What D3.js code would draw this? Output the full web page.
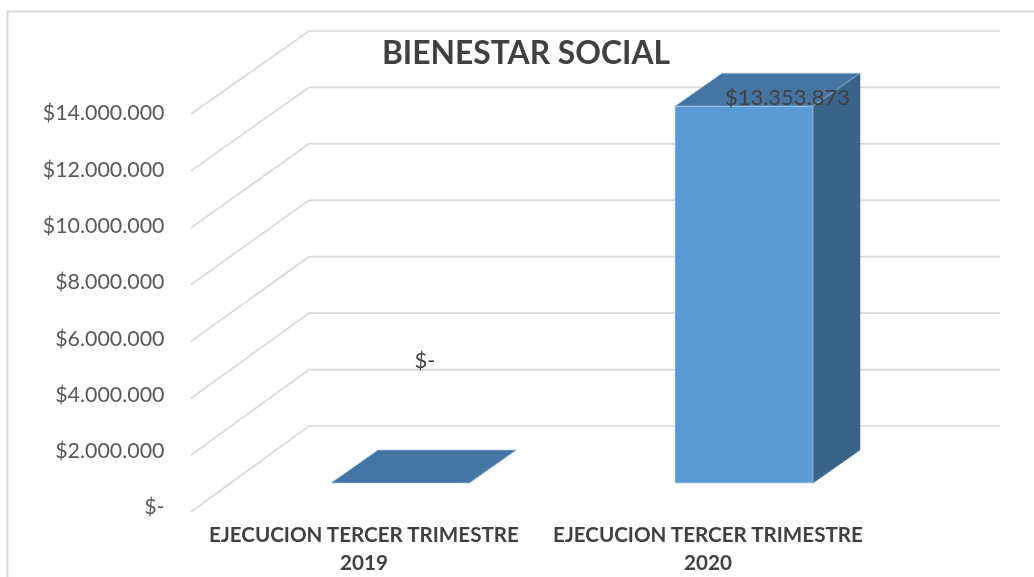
<!DOCTYPE html>
<html><head><meta charset="utf-8">
<script src="https://cdnjs.cloudflare.com/ajax/libs/d3/7.8.5/d3.min.js"></script>
<style>html,body{margin:0;padding:0;background:#fff}svg{display:block;filter:blur(.45px)}text{font-family:Lato,"Open Sans",sans-serif}</style>
</head><body><svg id="c" width="1034" height="577"></svg>
<script>
const categories=["EJECUCION TERCER TRIMESTRE 2019","EJECUCION TERCER TRIMESTRE 2020"];
const values=[0,13353873];
const valueLabels=["$-","$13.353.873"];
const tickValues=[0,2000000,4000000,6000000,8000000,10000000,12000000,14000000];
const tickLabels=["$-","$2.000.000","$4.000.000","$6.000.000","$8.000.000","$10.000.000","$12.000.000","$14.000.000"];
const title="BIENESTAR SOCIAL";

const svg=d3.select("#c");
const yBack=d3.scaleLinear().domain([0,14000000]).range([426,31]);
const yFront=d3.scaleLinear().domain([0,14000000]).range([512,114]);
const yText=d3.scaleLinear().domain([0,14000000]).range([507,113]);
const wallL=309,wallR=1000,frontL=191;
const x=d3.scaleBand().domain(categories).range([331-103,331-103+688]).paddingInner(206/344).paddingOuter(103/344);
const bw=138, barFloor=483, depthX=47, depthY=-33;
const h=v=>yBack(0)-yBack(v);
const x0=c=>x(c);

svg.append("path").attr("d",`M7.5,577V11.5H1034`).attr("fill","none").attr("stroke","#d9d9d9").attr("stroke-width",2);

const grid=svg.append("g").attr("fill","none").attr("stroke","#d9d9d9").attr("stroke-width",1.7);
grid.selectAll("path").data(tickValues).join("path")
 .attr("d",v=>`M${frontL},${yFront(v)}L${wallL},${yBack(v)}H${wallR}`);

svg.append("g").selectAll("text").data(tickValues).join("text")
 .attr("x",164.5).attr("y",v=>yText(v)).attr("dy","0.35em").attr("text-anchor","end")
 .attr("font-size",21.4).attr("fill","#595959").text((v,i)=>tickLabels[i]);

const bars=svg.append("g").selectAll("g").data(categories).join("g");
bars.append("path").attr("fill","#39648a").attr("stroke","#39648a").attr("stroke-width",.5)
 .attr("d",(c,i)=>{const a=x0(c)+bw,t=barFloor-h(values[i]);return `M${a},${barFloor}L${a+depthX},${barFloor+depthY}V${t+depthY}L${a},${t}Z`});
bars.append("path").attr("fill","#4575a3").attr("stroke","#a9c4de").attr("stroke-width",.6)
 .attr("d",(c,i)=>{const a=x0(c),t=barFloor-h(values[i]);return `M${a},${t}L${a+depthX},${t+depthY}H${a+bw+depthX}L${a+bw},${t}Z`});
bars.filter((c,i)=>values[i]>0).append("rect")
 .attr("x",c=>x0(c)).attr("width",bw)
 .attr("y",c=>barFloor-h(values[categories.indexOf(c)])).attr("height",c=>h(values[categories.indexOf(c)]))
 .attr("fill","#5b9bd5").attr("stroke","#bcd6ee").attr("stroke-width",.6);

const labelPos=[[425,360],[787.5,97]];
svg.append("g").selectAll("text").data(valueLabels).join("text")
 .attr("x",(d,i)=>labelPos[i][0]).attr("y",(d,i)=>labelPos[i][1]).attr("dy","0.35em").attr("text-anchor","middle")
 .attr("font-size",22).attr("fill","#404040").text(d=>d);

const lab=svg.append("g").selectAll("text").data(categories).join("text")
 .attr("text-anchor","middle").attr("font-size",20.6).attr("font-weight",700).attr("fill","#404040");
lab.each(function(c){
 const cx=x0(c)+bw/2-36, words=c.split(" "), yr=words.pop();
 d3.select(this).append("tspan").attr("x",cx).attr("y",541.5).text(words.join(" "));
 d3.select(this).append("tspan").attr("x",cx).attr("y",569.5).text(yr);
});

svg.append("text").attr("x",526).attr("y",64).attr("text-anchor","middle")
 .attr("font-size",31.8).attr("font-weight",700).attr("fill","#404040").text(title);
</script></body></html>
